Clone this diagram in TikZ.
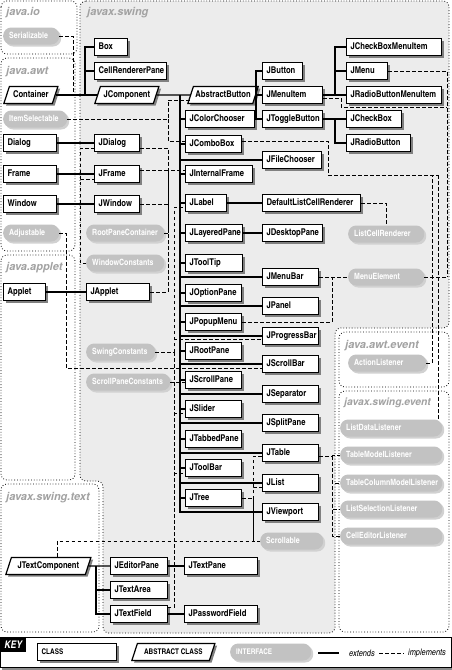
\documentclass[tikz,border=0pt]{standalone}
\usepackage{fontspec}
\setmainfont{texgyreheroscn}[Extension=.otf, UprightFont=*-bold, BoldFont=*-bold, ItalicFont=*-bolditalic, BoldItalicFont=*-bolditalic]
\newfontfamily\pkgfont{texgyreheros}[Extension=.otf, UprightFont=*-bolditalic]
\newfontfamily\keyfont{texgyreheroscn}[Extension=.otf, UprightFont=*-italic]
\usetikzlibrary{shapes.geometric,shadows}

\definecolor{swingbg}{HTML}{ECECEC}
\definecolor{ifacebg}{HTML}{C2C2C2}
\definecolor{pkggray}{HTML}{A2A2A2}

\tikzset{
  boxfont/.style={font=\fontsize{9.3}{10}\selectfont},
  boxshadow/.style={drop shadow={shadow xshift=2.2pt, shadow yshift=-2.2pt, fill=black!50, opacity=1}},
  cls/.style={draw, line width=1.2pt, fill=white, anchor=west, text width=#1, align=left,
    inner xsep=4pt, inner ysep=4pt, text height=7pt, text depth=2pt, boxfont, boxshadow},
  abscls/.style={trapezium, trapezium left angle=72, trapezium right angle=108,
    trapezium stretches body=true, draw, line width=1.2pt, fill=white, anchor=west,
    minimum width=#1, inner xsep=2pt, inner ysep=4pt, text height=7pt, text depth=2pt,
    boxfont, boxshadow},
  intf/.style={fill=ifacebg, text=white, rounded corners=8pt, anchor=west, text width=#1,
    align=left, inner xsep=6pt, inner ysep=4pt, text height=7pt, text depth=2pt,
    font=\fontsize{8.6}{9}\selectfont,
    drop shadow={shadow xshift=2pt, shadow yshift=-2pt, fill=black!18, opacity=1}},
  ext/.style={line width=1.3pt},
  impl/.style={line width=0.8pt, dash pattern=on 3.5pt off 2.5pt},
  pkg/.style={line width=0.8pt, dotted, rounded corners=6pt},
  pkgname/.style={anchor=west, text=pkggray, inner sep=0pt,
    font=\pkgfont\fontsize{11}{12}\selectfont},
}

\begin{document}
\begin{tikzpicture}[x=1pt, y=-1pt]
\useasboundingbox (0,0) rectangle (452,670);
\fill[white] (0,0) rectangle (452,670);

% packages
\draw[pkg, fill=swingbg] (80,1) -- (449,1) -- (449,328) -- (335,328) -- (335,633)
  -- (103,633) -- (103,481) -- (80,481) -- cycle;
\draw[pkg] (1,1) rectangle (77,54);
\draw[pkg] (1,58) rectangle (75,251);
\draw[pkg] (1,255) rectangle (75,480);
\draw[pkg] (1,484) rectangle (99,632);
\draw[pkg] (339,332) rectangle (449,387);
\draw[pkg] (339,391) rectangle (449,632);
\node[pkgname] (pio) at (6,13) {java.io};
\node[pkgname] (pswing) at (87,13) {javax.swing};
\node[pkgname] (pawt) at (6,72) {java.awt};
\node[pkgname] (papplet) at (6,268) {java.applet};
\node[pkgname] (ptext) at (6,498) {javax.swing.text};
\node[pkgname] (pawtevent) at (345,346) {java.awt.event};
\node[pkgname, font=\pkgfont\fontsize{10.3}{12}\selectfont] (pevent) at (344,403) {javax.swing.event};

% interfaces
\node[intf=44] (Serializable) at (3,36) {Serializable};
\node[intf=52] (ItemSelectable) at (3,119) {ItemSelectable};
\node[intf=44] (Adjustable) at (3,233) {Adjustable};
\node[intf=66] (RootPaneContainer) at (86,233) {RootPaneContainer};
\node[intf=66] (WindowConstants) at (86,263) {WindowConstants};
\node[intf=57] (SwingConstants) at (86,352) {SwingConstants};
\node[intf=72] (ScrollPaneConstants) at (86,382) {ScrollPaneConstants};
\node[intf=64] (ListCellRenderer) at (348,234) {ListCellRenderer};
\node[intf=64] (MenuElement) at (348,277) {MenuElement};
\node[intf=66] (ActionListener) at (348,363) {ActionListener};
\node[intf=51] (Scrollable) at (260,541) {Scrollable};
\node[intf=90] (ListDataListener) at (340,428) {ListDataListener};
\node[intf=90] (TableModelListener) at (340,455) {TableModelListener};
\node[intf=90] (TableColumnModelListener) at (340,483) {TableColumnModelListener};
\node[intf=90] (ListSelectionListener) at (340,509) {ListSelectionListener};
\node[intf=90] (CellEditorListener) at (340,536) {CellEditorListener};

% abstract classes
\node[abscls=54] (Container) at (6,95) {Container};
\node[abscls=64] (JComponent) at (97,95) {JComponent};
\node[abscls=63] (AbstractButton) at (190,95) {AbstractButton};
\node[abscls=85] (JTextComponent) at (8,566) {JTextComponent};

% classes
\node[cls=25] (Box) at (94,47) {Box};
\node[cls=64] (CellRendererPane) at (94,71) {CellRendererPane};
\node[cls=45] (Dialog) at (3,143) {Dialog};
\node[cls=37] (JDialog) at (94,143) {JDialog};
\node[cls=45] (Frame) at (3,174) {Frame};
\node[cls=37] (JFrame) at (94,174) {JFrame};
\node[cls=45] (Window) at (3,204) {Window};
\node[cls=37] (JWindow) at (94,204) {JWindow};
\node[cls=34] (Applet) at (3,292) {Applet};
\node[cls=55] (JApplet) at (86,292) {JApplet};

\node[cls=61] (JColorChooser) at (185,119) {JColorChooser};
\node[cls=48] (JComboBox) at (185,144) {JComboBox};
\node[cls=59] (JInternalFrame) at (185,174) {JInternalFrame};
\node[cls=33] (JLabel) at (185,203) {JLabel};
\node[cls=49] (JLayeredPane) at (185,233) {JLayeredPane};
\node[cls=49] (JToolTip) at (185,263) {JToolTip};
\node[cls=48] (JOptionPane) at (185,293) {JOptionPane};
\node[cls=48] (JPopupMenu) at (185,322) {JPopupMenu};
\node[cls=48] (JRootPane) at (185,351) {JRootPane};
\node[cls=48] (JScrollPane) at (185,380) {JScrollPane};
\node[cls=48] (JSlider) at (185,409) {JSlider};
\node[cls=48] (JTabbedPane) at (185,439) {JTabbedPane};
\node[cls=48] (JToolBar) at (185,468) {JToolBar};
\node[cls=48] (JTree) at (185,498) {JTree};

\node[cls=32] (JButton) at (262,71) {JButton};
\node[cls=52] (JMenuItem) at (262,95) {JMenuItem};
\node[cls=52] (JToggleButton) at (262,119) {JToggleButton};
\node[cls=51] (JFileChooser) at (262,160) {JFileChooser};
\node[cls=90] (DefaultListCellRenderer) at (262,203) {DefaultListCellRenderer};
\node[cls=52] (JDesktopPane) at (262,233) {JDesktopPane};
\node[cls=48] (JMenuBar) at (262,277) {JMenuBar};
\node[cls=48] (JPanel) at (262,306) {JPanel};
\node[cls=48] (JProgressBar) at (262,336) {JProgressBar};
\node[cls=48] (JScrollBar) at (262,364) {JScrollBar};
\node[cls=48] (JSeparator) at (262,394) {JSeparator};
\node[cls=48] (JSplitPane) at (262,423) {JSplitPane};
\node[cls=48] (JTable) at (262,453) {JTable};
\node[cls=48] (JList) at (262,483) {JList};
\node[cls=48] (JViewport) at (262,512) {JViewport};

\node[cls=87] (JCheckBoxMenuItem) at (346,47) {JCheckBoxMenuItem};
\node[cls=33] (JMenu) at (346,71) {JMenu};
\node[cls=87] (JRadioButtonMenuItem) at (346,95) {JRadioButtonMenuItem};
\node[cls=47] (JCheckBox) at (346,119) {JCheckBox};
\node[cls=56] (JRadioButton) at (346,143) {JRadioButton};

\node[cls=49] (JEditorPane) at (110,566) {JEditorPane};
\node[cls=49] (JTextArea) at (110,590) {JTextArea};
\node[cls=49] (JTextField) at (110,614) {JTextField};
\node[cls=65] (JTextPane) at (184,566) {JTextPane};
\node[cls=65] (JPasswordField) at (184,614) {JPasswordField};

% extends
\coordinate (cnt) at (85,95);
\draw[ext] (Container) -- (JComponent);
\draw[ext] (cnt) |- (Box);
\draw[ext] (cnt) |- (CellRendererPane);
\draw[ext] (Dialog) -- (JDialog);
\draw[ext] (Frame) -- (JFrame);
\draw[ext] (Window) -- (JWindow);
\draw[ext] (Applet) -- (JApplet);
\draw[ext] (JComponent) -- (AbstractButton);
\coordinate (jc) at (180,95);
\foreach \n in {JColorChooser,JComboBox,JInternalFrame,JLabel,JLayeredPane,JToolTip,%
  JOptionPane,JPopupMenu,JRootPane,JScrollPane,JSlider,JTabbedPane,JToolBar,JTree,%
  JFileChooser,JMenuBar,JPanel,JProgressBar,JScrollBar,JSeparator,JSplitPane,%
  JTable,JList,JViewport}
  \draw[ext] (jc) |- (\n);
\coordinate (ab) at (256,95);
\foreach \n in {JButton,JMenuItem,JToggleButton}
  \draw[ext] (ab) |- (\n);
\coordinate (mitem) at (335,95);
\draw[ext] (JMenuItem) -- (mitem);
\foreach \n in {JCheckBoxMenuItem,JMenu,JRadioButtonMenuItem}
  \draw[ext] (mitem) |- (\n);
\coordinate (tbtn) at (335,119);
\draw[ext] (JToggleButton) -- (tbtn);
\foreach \n in {JCheckBox,JRadioButton}
  \draw[ext] (tbtn) |- (\n);
\draw[ext] (JLabel) -- (DefaultListCellRenderer);
\draw[ext] (JLayeredPane) -- (JDesktopPane);
\coordinate (tcmp) at (96,566);
\draw[ext] (JTextComponent) -- (JEditorPane);
\foreach \n in {JTextArea,JTextField}
  \draw[ext] (tcmp) |- (\n);
\draw[ext] (JEditorPane) -- (JTextPane);
\draw[ext] (JTextField) -- (JPasswordField);

% implements
\coordinate (ser) at (73,95);
\draw[impl] (Serializable) -| (ser);
\coordinate (its) at (168,119);
\draw[impl] (ItemSelectable) -- (its) |- ([yshift=-5pt]AbstractButton.west);
\draw[impl] (its) |- ([yshift=3pt]JComboBox.west);
\coordinate (rpc) at (168,233);
\draw[impl] (RootPaneContainer) -- (rpc);
\draw[impl] ([yshift=-5pt]JDialog.east) -| (rpc);
\draw[impl] ([yshift=4pt]JFrame.east) -| (rpc);
\draw[impl] (JWindow) -| (rpc);
\draw[impl] (JApplet) -| (rpc);
\draw[impl] (rpc) |- ([yshift=4pt]JInternalFrame.west);
\coordinate (wc) at (80,263);
\draw[impl] (WindowConstants) -- (wc);
\draw[impl] (wc) |- ([yshift=-5pt]JDialog.west);
\draw[impl] (wc) |- ([yshift=-5pt]JFrame.west);
\coordinate (adj) at (66,368);
\draw[impl] (Adjustable) -| (adj) -- (adj -| JScrollBar.west);
\coordinate (swc) at (174,352);
\draw[impl] (SwingConstants) -- (swc);
\draw[impl] (swc) |- ([yshift=-4pt]JLabel.west);
\draw[impl] (swc) |- ([yshift=-3pt]JProgressBar.west);
\draw[impl] (swc) |- ([yshift=-4pt]JSlider.west);
\draw[impl] (swc) |- ([yshift=-5pt]JToolBar.west);
\draw[impl] (swc) |- ([yshift=7pt]JTextField.east);
\draw[impl] (ScrollPaneConstants) -- (ScrollPaneConstants -| JScrollPane.west);
\draw[impl] (DefaultListCellRenderer) -| (ListCellRenderer);
\coordinate (mel) at (332,277);
\coordinate (mer) at (447,277);
\draw[impl] (JMenuBar) -- (MenuElement);
\draw[impl] (JPopupMenu) -| (mel);
\draw[impl] (MenuElement) -- (mer);
\draw[impl] (JMenu) -| (mer);
\coordinate (mitm) at (341,107);
\draw[impl] ([yshift=-3pt]JMenuItem.east) -| (mitm) -- (mitm -| mer);
\coordinate (cb1) at (328,175);
\coordinate (cb2) at (438,175);
\coordinate (cb3) at (432,175);
\draw[impl] ([yshift=3pt]JComboBox.east) -| (cb1) -- (cb2);
\draw[impl] (cb2) -- (cb2 |- ListDataListener.north);
\draw[impl] (ActionListener) -| (cb3);
\coordinate (scr) at (253,541);
\draw[impl] (Scrollable) -- (scr);
\draw[impl] (scr) |- ([yshift=-3pt]JTable.west);
\draw[impl] (scr) |- ([yshift=-4pt]JList.west);
\draw[impl] (JTree) -| (scr);
\draw[impl] (JTextComponent.north east) |- (Scrollable);
\coordinate (tbl) at (332,456);
\draw[impl] ([yshift=-3pt]JTable.east) -- (tbl);
\foreach \l in {TableModelListener,TableColumnModelListener,ListSelectionListener,CellEditorListener}
  \draw[impl] (tbl) |- (\l);

% key
\draw[line width=0.6pt] (0,637) rectangle (451,667);
\draw[line width=2pt, black!45] (2,669) -- (452,669);
\node[fill=black, text=white, anchor=north west, minimum width=26, minimum height=15,
  inner sep=0pt, font=\itshape\fontsize{10.5}{11}\selectfont] (keylabel) at (0,637) {KEY};
\node[cls=71] (keyclass) at (37,652) {\fontsize{7.8}{9}\selectfont CLASS};
\node[abscls=83] (keyabstract) at (134,652) {\fontsize{7.8}{9}\selectfont ABSTRACT CLASS};
\node[intf=69, font=\fontsize{7.8}{9}\selectfont] (keyiface) at (230,652) {INTERFACE};
\coordinate (kext1) at (318,653);
\coordinate (kext2) at (339,653);
\draw[ext] (kext1) -- (kext2);
\node[anchor=west, inner sep=0pt, font=\keyfont\fontsize{9}{10}\selectfont] (kextends) at (349,653) {extends};
\coordinate (kimp1) at (379,653);
\coordinate (kimp2) at (404,653);
\draw[impl] (kimp1) -- (kimp2);
\node[anchor=west, inner sep=0pt, font=\keyfont\fontsize{9}{10}\selectfont] (kimplements) at (408,653) {implements};
\end{tikzpicture}
\end{document}
